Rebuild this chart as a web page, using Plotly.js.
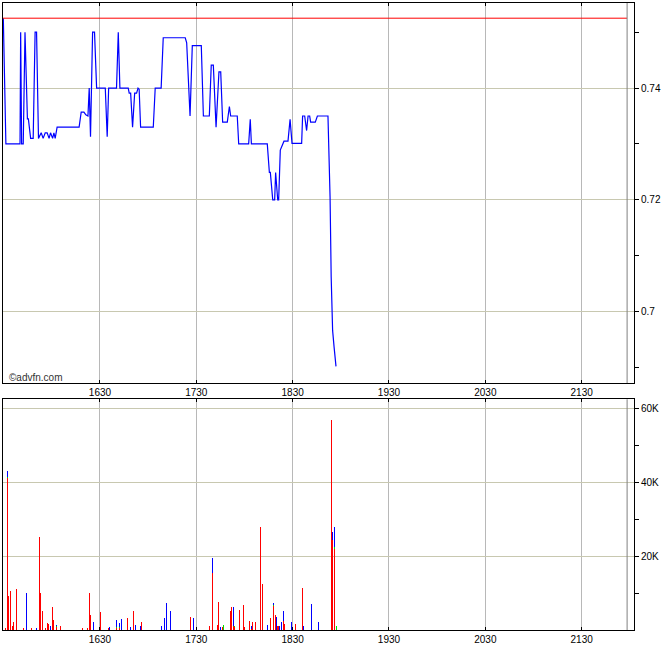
<!DOCTYPE html>
<html>
<head>
<meta charset="utf-8">
<script src="https://cdn.plot.ly/plotly-3.0.1.min.js"></script>
<style>html,body{margin:0;padding:0;background:#fff;}#chart{width:670px;height:647px;}</style>
</head>
<body>
<div id="chart"></div>
<script>
// time in minutes from midnight
const tickTimes = [990, 1050, 1110, 1170, 1230, 1290];
const tickLabels = ['1630', '1730', '1830', '1930', '2030', '2130'];
const prevClose = 0.7525;
const sessionEnd = 1318.3;

const priceT = [929.8, 931.4, 940.2, 940.6, 941.2, 942.2, 943.3, 944.8, 945.4, 946.8, 948.4, 949.6, 950.5, 951.7, 953.4, 954.6, 955.9, 957.1, 958.3, 959.2, 960.5, 961.3, 962.1, 963.3, 977.0, 978.3, 980.0, 981.2, 982.5, 983.3, 984.1, 985.4, 986.6, 987.9, 993.3, 994.5, 995.4, 1000.3, 1001.4, 1002.4, 1007.6, 1008.2, 1009.1, 1010.3, 1011.6, 1012.8, 1013.7, 1014.4, 1015.3, 1023.2, 1024.4, 1028.1, 1029.4, 1043.1, 1044.0, 1046.1, 1047.5, 1053.1, 1054.4, 1058.1, 1059.3, 1060.6, 1062.3, 1064.1, 1065.2, 1066.4, 1069.3, 1070.6, 1071.4, 1075.5, 1076.4, 1082.6, 1083.6, 1084.3, 1094.2, 1095.5, 1096.1, 1097.6, 1098.8, 1099.4, 1100.7, 1101.3, 1102.3, 1103.8, 1104.6, 1107.1, 1108.4, 1109.6, 1115.6, 1116.2, 1117.5, 1118.7, 1119.6, 1120.6, 1121.2, 1124.1, 1125.4, 1132.0, 1133.3, 1134.0, 1134.9, 1135.8, 1137.0];
const priceV = [0.7525, 0.73, 0.73, 0.75, 0.73, 0.73, 0.75, 0.7345, 0.7345, 0.731, 0.731, 0.75, 0.75, 0.731, 0.732, 0.731, 0.732, 0.732, 0.731, 0.732, 0.731, 0.732, 0.731, 0.733, 0.733, 0.7357, 0.7357, 0.7352, 0.735, 0.74, 0.7313, 0.75, 0.75, 0.74, 0.74, 0.7313, 0.74, 0.74, 0.75, 0.74, 0.74, 0.7391, 0.7391, 0.733, 0.7391, 0.7391, 0.74, 0.7398, 0.733, 0.733, 0.74, 0.74, 0.749, 0.749, 0.7481, 0.735, 0.7476, 0.7476, 0.735, 0.735, 0.7441, 0.7441, 0.733, 0.7429, 0.7429, 0.7339, 0.7339, 0.7367, 0.735, 0.735, 0.73, 0.73, 0.7344, 0.73, 0.73, 0.7249, 0.7249, 0.72, 0.72, 0.7249, 0.72, 0.72, 0.7289, 0.73, 0.7305, 0.7305, 0.7344, 0.7301, 0.7301, 0.735, 0.735, 0.7324, 0.735, 0.735, 0.7339, 0.7339, 0.735, 0.735, 0.7206, 0.7062, 0.6966, 0.6937, 0.6902];

const volT = [931.0, 932.2, 932.9, 934.1, 935.4, 936.0, 937.9, 942.2, 944.1, 947.2, 950.3, 952.2, 952.8, 954.0, 955.9, 957.2, 957.8, 959.0, 960.3, 960.9, 962.8, 965.3, 979.0, 982.1, 983.3, 984.0, 985.8, 990.2, 995.2, 995.8, 1000.2, 1002.0, 1003.3, 1007.0, 1008.9, 1010.7, 1012.0, 1015.1, 1015.7, 1028.2, 1030.1, 1031.3, 1033.8, 1046.5, 1048.1, 1058.1, 1060.0, 1063.1, 1063.7, 1065.0, 1066.2, 1066.8, 1071.2, 1071.8, 1073.1, 1073.7, 1076.8, 1079.3, 1079.9, 1083.0, 1084.3, 1084.9, 1086.8, 1089.9, 1091.1, 1094.2, 1096.1, 1098.0, 1099.2, 1099.8, 1100.5, 1101.1, 1101.7, 1103.0, 1104.2, 1104.8, 1109.2, 1109.8, 1111.7, 1116.0, 1116.7, 1121.7, 1126.0, 1134.0, 1134.8, 1136.0, 1137.2];
const volRed = [460,41000,9200,10500,1100,2200,11100,460,0,460, 0,25200,10000,5100,460,1900,1600,0,6200,2700, 700,1100,460,460,10000,4000,0,4900,460,0, 500,600,0,3200,0,5100,0,0,2200,0, 0,0,0,3500,0,1100,15300,1400,7600,0, 800,0,5100,6200,1000,800,5400,6800,800,2400, 400,2200,2200,27800,12400,0,3200,6400,4000,0, 1100,1100,0,0,2400,1600,0,800,1600,11400, 0,0,0,56700,24300,22000,0];
const volGreen = [0,500,0,0,0,0,0,0,0,0, 0,0,0,0,0,0,0,0,0,0, 300,0,0,0,0,0,0,0,0,0, 200,300,0,0,0,0,0,0,0,0, 0,0,0,0,0,0,0,0,0,0, 0,1300,0,0,0,300,0,0,0,0, 0,0,0,0,0,0,0,300,0,0, 0,0,0,0,0,0,0,0,0,0, 0,0,0,0,0,500,1100];
const volBlue = [0,1500,0,0,0,0,0,0,10000,0, 460,0,0,0,0,0,0,1100,0,0, 400,0,0,0,0,0,2200,0,0,800, 2000,900,3000,0,900,0,1400,1100,0,1100, 3200,7300,5100,0,3200,0,4200,0,0,800, 0,0,0,0,5200,0,0,0,0,0, 700,0,0,0,0,1400,0,500,0,3500, 0,0,1100,2200,2700,0,2200,0,0,0, 1100,7000,2200,0,2100,5300,0];

const priceTicks = [0.70, 0.72, 0.74];
const priceTickText = ['0.7', '0.72', '0.74'];
const volTicks = [20000, 40000, 60000];
const volTickText = ['20K', '40K', '60K'];

const xRange = [929.6, 1322.6];
const font = {family: '"Liberation Sans Narrow", "Arial Narrow", "Liberation Sans", Arial, sans-serif', size: 10, color: '#000'};

const barCommon = {type: 'bar', x: volT, xaxis: 'x', yaxis: 'y', width: 0.65, marker: {line: {width: 0}}, hoverinfo: 'skip'};
const traces = [
  {type: 'scatter', mode: 'lines', x: priceT, y: priceV, xaxis: 'x2', yaxis: 'y2', line: {color: '#0000ff', width: 1.2}, hoverinfo: 'skip'},
  Object.assign({}, barCommon, {y: volRed, marker: {color: '#ff0000', line: {width: 0}}}),
  Object.assign({}, barCommon, {y: volGreen, marker: {color: '#00e000', line: {width: 0}}}),
  Object.assign({}, barCommon, {y: volBlue, marker: {color: '#0000ff', line: {width: 0}}})
];

function xAxis(anchor) {
  return {
    anchor: anchor, range: xRange, tickmode: 'array', tickvals: tickTimes, ticktext: tickLabels,
    showgrid: true, gridcolor: '#b8b8b8', gridwidth: 1, zeroline: false,
    showline: true, linecolor: '#000', linewidth: 1, mirror: 'ticks',
    ticks: 'inside', ticklen: 3, tickcolor: '#000', tickfont: font, fixedrange: true
  };
}
function yAxis(anchor, domain, range, tv, tt, minorTick0, minorDtick) {
  return {
    anchor: anchor, domain: domain, range: range, side: 'right',
    tickmode: 'array', tickvals: tv, ticktext: tt,
    showgrid: true, gridcolor: '#c8c8b0', gridwidth: 1, zeroline: false,
    showline: true, linecolor: '#000', linewidth: 1, mirror: true,
    ticks: 'outside', ticklen: 4, tickcolor: '#000', tickfont: font,
    minor: {ticks: 'outside', ticklen: 4, tickcolor: '#000', tick0: minorTick0, dtick: minorDtick, showgrid: false},
    fixedrange: true
  };
}

const layout = {
  width: 670, height: 647,
  margin: {l: 3, r: 36, t: 3, b: 17},
  paper_bgcolor: '#fff', plot_bgcolor: '#fff',
  showlegend: false, barmode: 'stack', bargap: 0,
  font: font,
  xaxis: xAxis('y'),
  xaxis2: xAxis('y2'),
  yaxis: yAxis('x', [0, 0.368], [0, 62440], volTicks, volTickText, 10000, 20000),
  yaxis2: yAxis('x2', [0.3939, 1], [0.68723, 0.75522], priceTicks, priceTickText, 0.69, 0.02),
  shapes: [
    {type: 'line', xref: 'x2', yref: 'y2', x0: xRange[0], x1: sessionEnd, y0: prevClose, y1: prevClose, line: {color: '#ff0000', width: 1}},
    {type: 'line', xref: 'x2', yref: 'y2 domain', x0: sessionEnd, x1: sessionEnd, y0: 0, y1: 1, line: {color: '#808080', width: 1}},
    {type: 'line', xref: 'x', yref: 'y domain', x0: sessionEnd, x1: sessionEnd, y0: 0, y1: 1, line: {color: '#808080', width: 1}}
  ],
  annotations: [
    {xref: 'paper', yref: 'y2 domain', x: 0.006, y: 0, xanchor: 'left', yanchor: 'bottom', yshift: -2, showarrow: false,
     text: '©advfn.com', font: {family: '"Liberation Sans", Arial, sans-serif', size: 10, color: '#333'}}
  ]
};

Plotly.newPlot('chart', traces, layout, {staticPlot: true, displayModeBar: false});
</script>
</body>
</html>
